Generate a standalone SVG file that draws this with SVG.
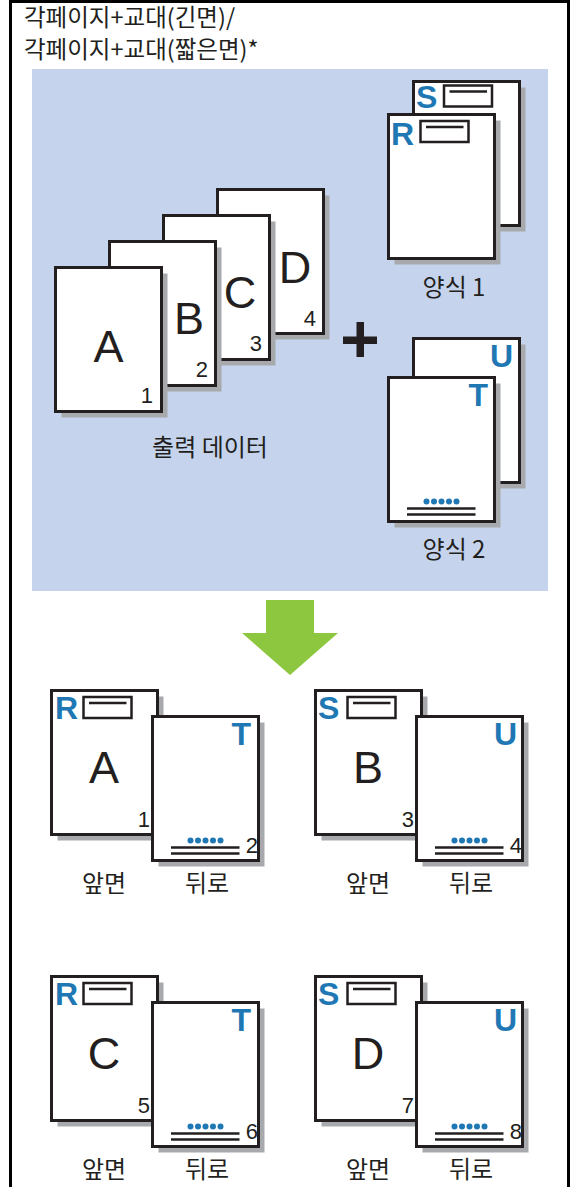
<svg xmlns="http://www.w3.org/2000/svg" width="571" height="1187" viewBox="0 0 571 1187">
<style>
.pg{fill:#fff;stroke:#231f20;stroke-width:3}
.sh{fill:#a7a9ac}
.big{font-family:"Liberation Sans",Arial,sans-serif;font-size:45px;fill:#231f20;text-anchor:middle}
.num{font-family:"Liberation Sans",Arial,sans-serif;font-size:22px;fill:#231f20;text-anchor:end}
.bl{font-family:"Liberation Sans",Arial,sans-serif;font-size:32px;font-weight:bold;fill:#1f78b4}
.ko{font-family:"Noto Sans CJK KR","Noto Sans",sans-serif;font-size:23.5px;fill:#231f20}
.kc{font-family:"Noto Sans CJK KR","Noto Sans",sans-serif;font-size:24px;fill:#231f20;text-anchor:middle}
.bx{fill:#fff;stroke:#231f20;stroke-width:2.5}
.ln{stroke:#231f20;stroke-width:2.5}
.dot{fill:#1f78b4}
</style>
<defs>
<g id="shadowpage"><rect class="sh" x="6" y="6" width="106" height="144"/><rect class="pg" x="0" y="0" width="106" height="144"/></g>
<g id="hdrbox"><rect class="bx" x="32" y="6.5" width="48" height="21"/><line class="ln" x1="37.5" y1="12.5" x2="75" y2="12.5"/></g>
<g id="footer"><circle class="dot" cx="38" cy="124" r="3"/><circle class="dot" cx="45.5" cy="124" r="3"/><circle class="dot" cx="53" cy="124" r="3"/><circle class="dot" cx="60.5" cy="124" r="3"/><circle class="dot" cx="68" cy="124" r="3"/><line class="ln" x1="18.5" y1="131" x2="87" y2="131" stroke-width="2"/><line class="ln" x1="18.5" y1="137" x2="87" y2="137" stroke-width="2"/></g>
</defs>
<rect x="10.5" y="1.5" width="558" height="1200" fill="#fff" stroke="#000" stroke-width="3"/>
<g id="title">
<text class="ko" x="24" y="26">각페이지+교대(긴면)/</text>
<text class="ko" x="24" y="58">각페이지+교대(짧은면)*</text>
</g>
<rect id="input-area" x="32" y="69" width="516" height="522" fill="#c5d4ec"/>
<g id="output-data">
<use href="#shadowpage" x="217.5" y="189.5"/>
<text class="big" x="295" y="283">D</text><text class="num" x="316" y="326">4</text>
<use href="#shadowpage" x="163.5" y="215.5"/>
<text class="big" x="240" y="308">C</text><text class="num" x="262" y="351">3</text>
<use href="#shadowpage" x="109.5" y="241.5"/>
<text class="big" x="189" y="334">B</text><text class="num" x="208" y="377">2</text>
<use href="#shadowpage" x="55.5" y="267.5"/>
<text class="big" x="108.5" y="362">A</text><text class="num" x="153" y="403">1</text>
<text class="kc" x="210" y="456">출력 데이터</text>
</g>
<g id="plus"><path d="M343 336.5h34v7.5h-34z M356.5 322h7.5v35h-7.5z" fill="#231f20"/></g>
<g id="form1">
<use href="#shadowpage" x="413.5" y="81.5"/>
<text class="bl" x="416" y="108">S</text><use href="#hdrbox" x="412" y="79"/>
<use href="#shadowpage" x="388.5" y="114.5"/>
<text class="bl" x="391" y="145">R</text><use href="#hdrbox" x="388.5" y="114.5"/>
<text class="kc" x="454" y="296">양식 1</text>
</g>
<g id="form2">
<use href="#shadowpage" x="413.5" y="338.5"/>
<text class="bl" x="513" y="367" text-anchor="end">U</text>
<use href="#shadowpage" x="388.5" y="377.5"/>
<text class="bl" x="488" y="406" text-anchor="end">T</text>
<use href="#footer" x="388.5" y="377.5"/>
<text class="kc" x="454" y="558">양식 2</text>
</g>
<g id="connectors"><path d="M266 600H314V633H338L290 675L242 633H266Z" fill="#8dc63f"/></g>
<g id="pair1">
<use href="#shadowpage" x="51.5" y="690.5"/>
<text class="bl" x="55" y="719">R</text><use href="#hdrbox" x="51.5" y="690.5"/>
<text class="big" x="104" y="783">A</text><text class="num" x="150" y="827">1</text>
<use href="#shadowpage" x="152.5" y="716.5"/>
<text class="bl" x="251" y="745" text-anchor="end">T</text>
<use href="#footer" x="152.5" y="716.5"/>
<text class="num" x="258" y="853">2</text>
<text class="kc" x="104" y="892">앞면</text><text class="kc" x="207" y="892">뒤로</text>
</g>
<g id="pair2" transform="translate(264,0)">
<use href="#shadowpage" x="51.5" y="690.5"/>
<text class="bl" x="54" y="719">S</text><use href="#hdrbox" x="51.5" y="690.5"/>
<text class="big" x="104" y="783">B</text><text class="num" x="150" y="827">3</text>
<use href="#shadowpage" x="152.5" y="716.5"/>
<text class="bl" x="253" y="745" text-anchor="end">U</text>
<use href="#footer" x="152.5" y="716.5"/>
<text class="num" x="258" y="853">4</text>
<text class="kc" x="104" y="892">앞면</text><text class="kc" x="207" y="892">뒤로</text>
</g>
<g id="pair3" transform="translate(0,286)">
<use href="#shadowpage" x="51.5" y="690.5"/>
<text class="bl" x="55" y="719">R</text><use href="#hdrbox" x="51.5" y="690.5"/>
<text class="big" x="104" y="783">C</text><text class="num" x="150" y="827">5</text>
<use href="#shadowpage" x="152.5" y="716.5"/>
<text class="bl" x="251" y="745" text-anchor="end">T</text>
<use href="#footer" x="152.5" y="716.5"/>
<text class="num" x="258" y="853">6</text>
<text class="kc" x="104" y="892">앞면</text><text class="kc" x="207" y="892">뒤로</text>
</g>
<g id="pair4" transform="translate(264,286)">
<use href="#shadowpage" x="51.5" y="690.5"/>
<text class="bl" x="54" y="719">S</text><use href="#hdrbox" x="51.5" y="690.5"/>
<text class="big" x="104" y="783">D</text><text class="num" x="150" y="827">7</text>
<use href="#shadowpage" x="152.5" y="716.5"/>
<text class="bl" x="253" y="745" text-anchor="end">U</text>
<use href="#footer" x="152.5" y="716.5"/>
<text class="num" x="258" y="853">8</text>
<text class="kc" x="104" y="892">앞면</text><text class="kc" x="207" y="892">뒤로</text>
</g>
</svg>
